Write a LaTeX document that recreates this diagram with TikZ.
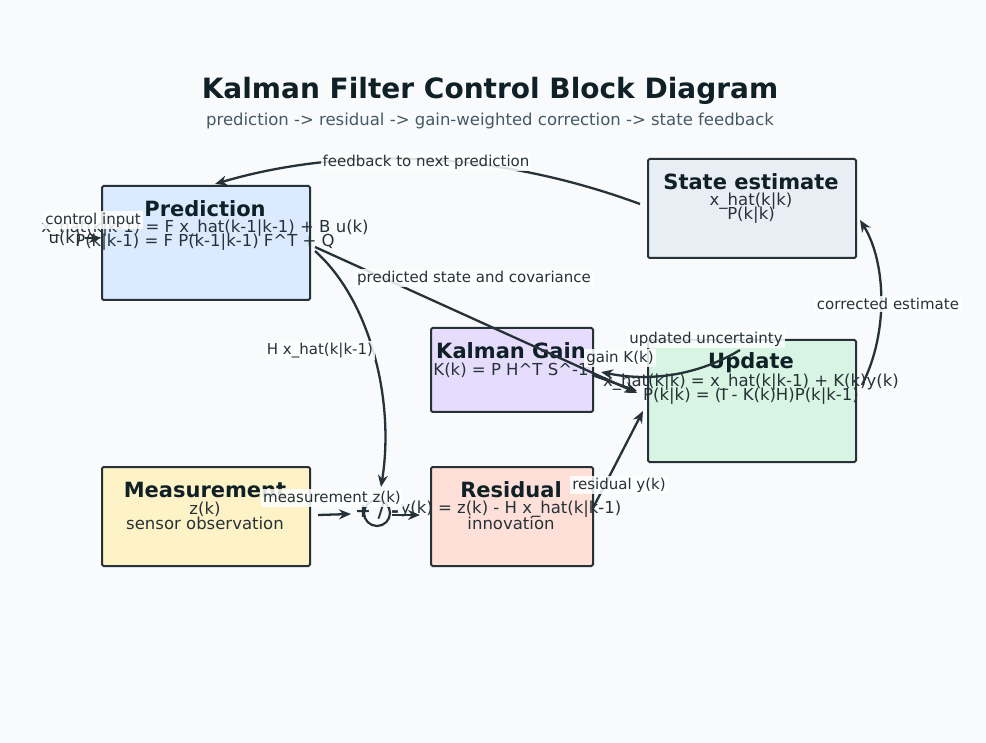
\documentclass[tikz,border=0pt]{standalone}
\usepackage{fontspec}
\setmainfont{DejaVu Sans}
\usetikzlibrary{arrows.meta}
\definecolor{bg}{HTML}{F8FAFC}
\definecolor{ink}{HTML}{263238}
\definecolor{ttl}{HTML}{102027}
\definecolor{sub}{HTML}{455A64}
\definecolor{cpred}{HTML}{DBEAFE}
\definecolor{cstate}{HTML}{E8EEF3}
\definecolor{cgain}{HTML}{E6DDFD}
\definecolor{cupd}{HTML}{D8F4E2}
\definecolor{cmeas}{HTML}{FEF3C7}
\definecolor{cres}{HTML}{FEE0D8}
\begin{document}
\begin{tikzpicture}[x=1pt,y=-1pt,
 box/.style={draw=ink,line width=2pt,rounded corners=1.5pt,anchor=north west,inner sep=0},
 bt/.style={font=\fontsize{21}{21}\selectfont\bfseries,text=ttl},
 bl/.style={font=\fontsize{16.5}{16.5}\selectfont,text=ink},
 arr/.style={-{Stealth[length=12pt,width=10pt]},draw=ink,line width=2.3pt},
 lab/.style={fill=white,fill opacity=0.85,text opacity=1,font=\fontsize{15}{15}\selectfont,text=ink,inner sep=2pt}]
\fill[bg] (0,0) rectangle (986,743);
\useasboundingbox (0,0) rectangle (986,743);
\node[font=\fontsize{28}{28}\selectfont\bfseries,text=ttl] (title) at (490,91) {Kalman Filter Control Block Diagram};
\node[font=\fontsize{16.5}{16.5}\selectfont,text=sub] (subt) at (490,121) {prediction -> residual -> gain-weighted correction -> state feedback};
% boxes
\node[box,fill=cpred,minimum width=208,minimum height=114] (pred) at (101,185) {};
\node[box,fill=cstate,minimum width=208,minimum height=99] (state) at (647,158) {};
\node[box,fill=cgain,minimum width=162,minimum height=84] (gain) at (430,327) {};
\node[box,fill=cupd,minimum width=208,minimum height=122] (upd) at (647,339) {};
\node[box,fill=cmeas,minimum width=208,minimum height=99] (meas) at (101,466) {};
\node[box,fill=cres,minimum width=162,minimum height=99] (res) at (430,466) {};
\node[bt] (predT) at (205,209) {Prediction};
\node[bl] (predA) at (205,228) {x\_hat(k|k-1) = F x\_hat(k-1|k-1) + B u(k)};
\node[bl] (predB) at (205,242) {P(k|k-1) = F P(k-1|k-1) F\textasciicircum T + Q};
\node[bt] (stateT) at (751,182) {State estimate};
\node[bl] (stateA) at (751,201) {x\_hat(k|k)};
\node[bl] (stateB) at (751,215) {P(k|k)};
\node[bt] (gainT) at (511,351) {Kalman Gain};
\node[bl] (gainA) at (511,370) {K(k) = P H\textasciicircum T S\textasciicircum -1};
\node[bt] (updT) at (751,363) {Update};
\node[bl] (updA) at (751,382) {x\_hat(k|k) = x\_hat(k|k-1) + K(k)y(k)};
\node[bl] (updB) at (751,396) {P(k|k) = (I - K(k)H)P(k|k-1)};
\node[bt] (measT) at (205,490) {Measurement};
\node[bl] (measA) at (205,509) {z(k)};
\node[bl] (measB) at (205,523) {sensor observation};
\node[bt] (resT) at (511,490) {Residual};
\node[bl] (resA) at (511,509) {y(k) = z(k) - H x\_hat(k|k-1)};
\node[bl] (resB) at (511,523) {innovation};
\node[draw=ink,line width=2.2pt,circle,minimum size=26,inner sep=0] (sum) at (377,513) {};
\node[font=\fontsize{19}{19}\selectfont\bfseries,text=ink] (sumT) at (377,511) {+ / -};
\node[bl] (u) at (65,238) {u(k)};
\coordinate (stOut) at (640,204);
% connectors
\draw[arr] (stOut) .. controls (480,145) and (330,150) .. (215,184);
\node[lab] (l1) at (426,162) {feedback to next prediction};
\draw[arr] (315,247) -- (637,393);
\node[lab] (l2) at (474,278) {predicted state and covariance};
\draw[arr] (315,251) .. controls (370,300) and (395,400) .. (381,487);
\node[lab] (l3) at (320,351) {H x\_hat(k|k-1)};
\draw[arr] (u) -- (pred.west |- u);
\node[lab] (l4) at (93,220) {control input};
\draw[arr] (318,515) -- (351,514);
\node[lab] (l5) at (332,498) {measurement z(k)};
\draw[arr] (392,515) -- (420,515);
\draw[arr] (593,508) -- (643,411);
\node[lab] (l6) at (619,485) {residual y(k)};
\draw[arr] (592,375) -- (637,391);
\node[lab] (l7) at (620,358) {gain K(k)};
\draw[arr] (740,350) .. controls (690,380) and (640,380) .. (601,372);
\node[lab] (l8) at (706,339) {updated uncertainty};
\draw[arr] (862,385) .. controls (890,330) and (885,260) .. (860,220);
\node[lab] (l9) at (888,304) {corrected estimate};
\end{tikzpicture}
\end{document}
